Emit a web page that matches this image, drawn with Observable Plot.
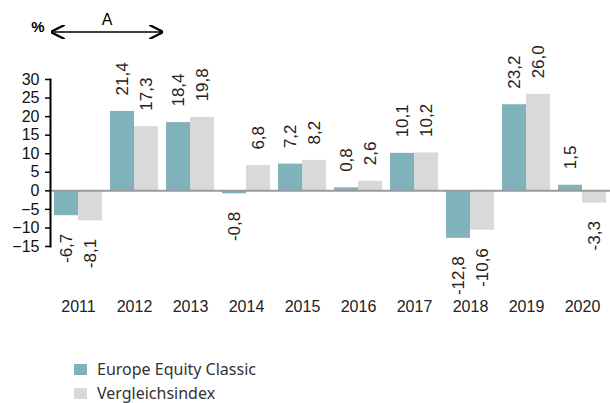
<!DOCTYPE html>
<html>
<head>
<meta charset="utf-8">
<script src="https://cdn.jsdelivr.net/npm/d3@7"></script>
<script src="https://cdn.jsdelivr.net/npm/@observablehq/plot@0.6"></script>
<style>
  html, body { margin: 0; padding: 0; background: #fff; }
  #wrap { position: relative; width: 610px; height: 403px; font-family: "Liberation Sans", Arial, sans-serif; overflow: hidden; }
  #chart { position: absolute; left: 0; top: 0; }
  #header { position: absolute; left: 0; top: 0; }
  #legend { position: absolute; left: 74px; top: 357px; font-family: "Noto Sans", sans-serif; font-size: 16px; color: #333; }
  .item { display: flex; align-items: center; height: 24px; }
  .sw { width: 13px; height: 11px; margin-right: 10px; }
</style>
</head>
<body>
<div id="wrap">
  <div id="chart"></div>
  <svg id="header" width="610" height="50">
    <defs>
      <marker id="ah" viewBox="0 0 10 10" refX="9" refY="5" markerWidth="9" markerHeight="9" orient="auto-start-reverse">
        <path d="M0,0 L10,5 L0,10" fill="none" stroke="#000" stroke-width="1.6"/>
      </marker>
    </defs>
    <text x="38" y="32" font-family="Liberation Sans, Arial, sans-serif" font-weight="bold" font-size="15" text-anchor="middle">%</text>
    <line x1="52" y1="32" x2="162" y2="32" stroke="#000" stroke-width="1.6" marker-start="url(#ah)" marker-end="url(#ah)"/>
    <text x="107" y="25" font-family="Liberation Sans, Arial, sans-serif" font-size="16" text-anchor="middle">A</text>
  </svg>
  <div id="legend"></div>
</div>
<script>
const years = ["2011","2012","2013","2014","2015","2016","2017","2018","2019","2020"];
const fundValues = [-6.7, 21.4, 18.4, -0.8, 7.2, 0.8, 10.1, -12.8, 23.2, 1.5];
const indexValues = [-8.1, 17.3, 19.8, 6.8, 8.2, 2.6, 10.2, -10.6, 26.0, -3.3];
const seriesNames = ["Europe Equity Classic", "Vergleichsindex"];
const seriesColors = ["#80B3B9", "#D9D9D9"];
const yTicks = [-15, -10, -5, 0, 5, 10, 15, 20, 25, 30];

const data = years.flatMap((year, i) => [
  {year, series: seriesNames[0], value: fundValues[i]},
  {year, series: seriesNames[1], value: indexValues[i]}
]);
const fmt = v => v.toFixed(1).replace(".", ",");

const chart = Plot.plot({
  width: 610,
  height: 340,
  marginTop: 79,
  marginBottom: 94,
  marginLeft: 50,
  marginRight: 0,
  style: {fontFamily: "Liberation Sans, Arial, sans-serif", overflow: "visible", background: "transparent"},
  fx: {domain: years, padding: 0, label: null},
  x: {domain: seriesNames, padding: 0, paddingInner: 0, paddingOuter: 0.12, axis: null},
  y: {domain: [-15, 30], label: null},
  color: {domain: seriesNames, range: seriesColors},
  marks: [
    Plot.barY(data, {fx: "year", x: "series", y: "value", fill: "series"}),
    Plot.ruleY([0], {stroke: "#9a9a9a", strokeWidth: 2}),
    Plot.text(data.filter(d => d.value >= 0), {
      fx: "year", x: "series", y: "value", text: d => fmt(d.value),
      rotate: -90, textAnchor: "start", dy: -16, fontSize: 17, fill: "#222"
    }),
    Plot.text(data.filter(d => d.value < 0), {
      fx: "year", x: "series", y: "value", text: d => fmt(d.value),
      rotate: -90, textAnchor: "end", dy: 18, fontSize: 17, fill: "#222"
    }),
    Plot.axisY({ticks: yTicks, tickSize: 5, tickPadding: 6, fontSize: 16, fill: "#111", stroke: "#000", strokeWidth: 1.5, label: null}),
    Plot.frame({anchor: "left", facetAnchor: "left", stroke: "#000", strokeWidth: 2}),
    Plot.axisFx({anchor: "bottom", tickSize: 0, tickPadding: 54, fontSize: 16, fill: "#222", label: null})
  ]
});
document.getElementById("chart").appendChild(chart);

const legend = document.getElementById("legend");
seriesNames.forEach((name, i) => {
  const item = document.createElement("div");
  item.className = "item";
  const sw = document.createElement("span");
  sw.className = "sw";
  sw.style.background = seriesColors[i];
  const t = document.createElement("span");
  t.textContent = name;
  item.appendChild(sw);
  item.appendChild(t);
  legend.appendChild(item);
});
</script>
</body>
</html>
